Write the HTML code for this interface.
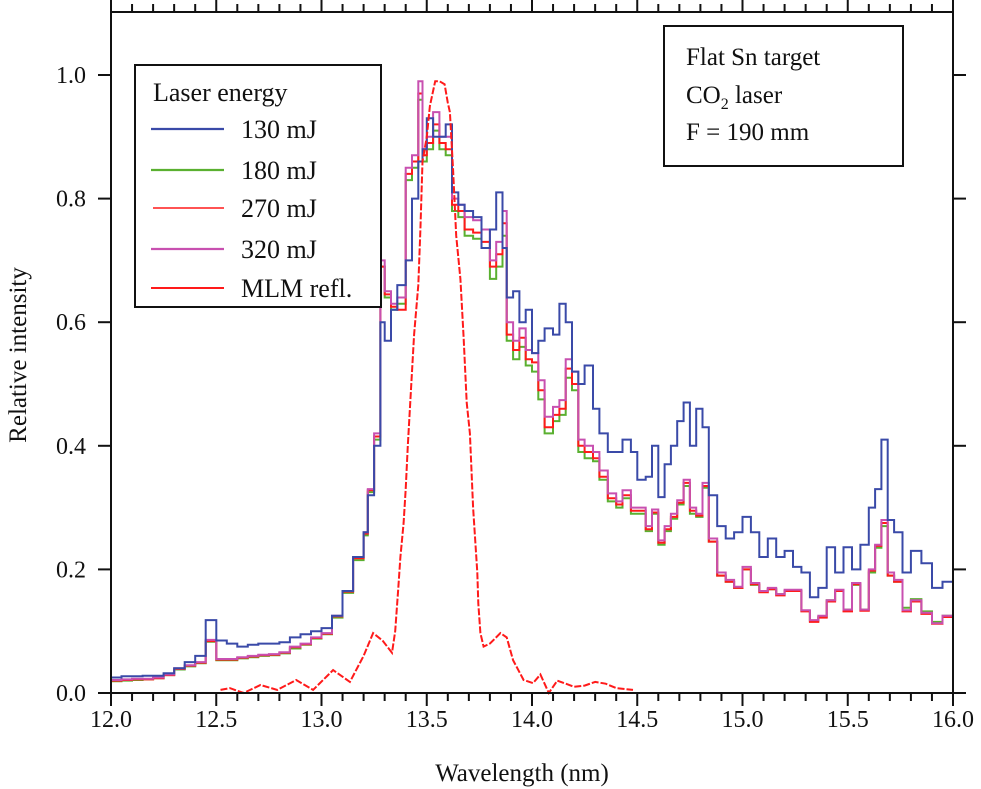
<!DOCTYPE html>
<html><head><meta charset="utf-8">
<style>
html,body{margin:0;padding:0;background:#fff;}
svg{display:block;font-family:"Liberation Serif","DejaVu Serif",serif;}
</style></head>
<body>
<svg id="chart" width="981" height="789" viewBox="0 0 981 789" xmlns="http://www.w3.org/2000/svg">
<g id="marks"></g>
<g id="axes"></g>
<g id="legend">
  <rect x="135" y="65" width="246" height="242" fill="#fff" stroke="#111" stroke-width="2"/>
  <text x="153" y="101" font-size="26" fill="#111">Laser energy</text>
  <line x1="151" x2="224" y1="129" y2="129" stroke="#3a4aa8" stroke-width="2.2"/>
  <text x="241" y="138" font-size="26" fill="#111">130 mJ</text>
  <line x1="151" x2="224" y1="170" y2="170" stroke="#5ab030" stroke-width="2.2"/>
  <text x="241" y="179" font-size="26" fill="#111">180 mJ</text>
  <line x1="153" x2="224" y1="208" y2="208" stroke="#ff1a1a" stroke-width="1.4"/>
  <text x="241" y="217" font-size="26" fill="#111">270 mJ</text>
  <line x1="151" x2="224" y1="249" y2="249" stroke="#c850b0" stroke-width="2.2"/>
  <text x="241" y="258" font-size="26" fill="#111">320 mJ</text>
  <line x1="151" x2="224" y1="288" y2="288" stroke="#ff1a1a" stroke-width="2"/>
  <text x="241" y="297" font-size="26" fill="#111">MLM refl.</text>
</g>
<g id="infobox">
  <rect x="664" y="26" width="239" height="140" fill="#fff" stroke="#111" stroke-width="2"/>
  <text x="686" y="65" font-size="25" fill="#111">Flat Sn target</text>
  <text x="686" y="103" font-size="25" fill="#111">CO<tspan font-size="16" dy="6">2</tspan><tspan dy="-6"> laser</tspan></text>
  <text x="686" y="140" font-size="25" fill="#111">F = 190 mm</text>
</g>
<text x="522" y="781" font-size="25" text-anchor="middle" fill="#111">Wavelength (nm)</text>
<text x="0" y="0" font-size="25" text-anchor="middle" fill="#111" transform="translate(26,355) rotate(-90)">Relative intensity</text>
</svg>
<script>
const wl=[12.00,12.05,12.10,12.15,12.20,12.25,12.30,12.35,12.40,12.45,12.50,12.55,12.60,12.65,12.70,12.75,12.80,12.85,12.90,12.95,13.00,13.05,13.10,13.15,13.20,
13.22,13.25,13.28,13.30,13.33,13.36,13.40,13.43,13.46,13.48,
13.50,13.53,13.56,13.59,13.62,13.65,13.68,13.72,13.76,13.80,
13.83,13.86,13.88,13.91,13.94,13.97,14.00,14.03,14.06,14.10,
14.13,14.16,14.19,14.22,14.25,14.29,14.32,14.36,14.40,14.43,
14.47,14.50,14.54,14.57,14.60,14.63,14.66,14.69,14.72,14.75,
14.78,14.81,14.84,14.88,14.92,14.96,15.00,15.04,15.08,15.12,
15.16,15.20,15.24,15.28,15.32,15.36,15.40,15.44,15.48,15.52,
15.56,15.60,15.63,15.66,15.69,15.72,15.76,15.80,15.85,15.90,
15.95,16.00];
const s130=[.025,.027,.027,.028,.028,.032,.040,.050,.060,.118,.085,.080,.075,.078,.080,.080,.082,.090,.095,.100,.105,.125,.165,.220,.260,
.320,.400,.600,.570,.620,.660,.700,.800,.860,.880,
.930,.900,.900,.920,.810,.790,.780,.770,.720,.750,
.810,.720,.640,.650,.600,.620,.550,.570,.590,.580,
.630,.600,.520,.500,.530,.460,.420,.390,.390,.410,
.390,.345,.350,.400,.317,.370,.400,.440,.470,.400,
.460,.430,.320,.270,.250,.260,.285,.260,.220,.250,
.220,.230,.204,.195,.155,.170,.236,.195,.236,.200,
.240,.300,.330,.410,.280,.260,.195,.230,.210,.170,
.180,.180];
const s180=[.019,.020,.021,.022,.024,.029,.038,.043,.048,.083,.053,.053,.056,.058,.060,.061,.064,.072,.078,.088,.095,.122,.162,.215,.255,
.325,.410,.690,.640,.620,.630,.830,.850,.960,.860,
.880,.910,.880,.870,.780,.770,.740,.735,.720,.670,
.690,.740,.570,.540,.560,.530,.520,.475,.420,.440,
.450,.510,.490,.390,.380,.375,.345,.310,.300,.315,
.290,.290,.262,.290,.240,.262,.282,.305,.335,.290,
.285,.332,.245,.190,.180,.170,.200,.175,.165,.168,
.160,.165,.165,.133,.117,.123,.150,.165,.135,.175,
.135,.195,.235,.270,.190,.180,.138,.152,.132,.115,
.125,.130];
const s270=[.020,.021,.022,.022,.024,.029,.039,.044,.049,.084,.054,.054,.057,.059,.061,.062,.065,.074,.079,.089,.096,.124,.164,.218,.258,
.328,.415,.690,.645,.625,.620,.840,.860,.970,.870,
.890,.920,.890,.880,.790,.780,.750,.745,.730,.690,
.710,.760,.580,.555,.575,.540,.535,.490,.430,.450,
.460,.525,.500,.400,.390,.380,.350,.315,.305,.320,
.295,.295,.265,.292,.243,.265,.285,.308,.340,.295,
.287,.335,.245,.190,.180,.170,.200,.176,.163,.168,
.158,.165,.165,.132,.115,.122,.148,.165,.132,.176,
.133,.198,.238,.275,.190,.180,.132,.148,.128,.112,
.123,.128];
const s320=[.021,.022,.023,.023,.025,.030,.040,.045,.050,.086,.055,.055,.058,.060,.062,.063,.066,.075,.080,.090,.097,.125,.165,.220,.260,
.330,.420,.700,.650,.630,.640,.850,.870,.990,.880,
.900,.940,.900,.900,.800,.790,.770,.765,.750,.700,
.730,.780,.600,.570,.590,.555,.550,.506,.447,.463,
.474,.540,.520,.410,.400,.390,.360,.323,.310,.328,
.300,.300,.270,.297,.247,.270,.290,.312,.345,.300,
.290,.340,.250,.195,.183,.172,.204,.178,.165,.170,
.160,.167,.167,.134,.118,.125,.150,.167,.135,.178,
.135,.200,.240,.280,.195,.183,.134,.150,.130,.113,
.125,.130];
const mlmWl=[12.52,12.565,12.63,12.71,12.79,12.88,12.96,13.055,13.135,13.20,
13.245,13.29,13.335,13.35,13.365,13.375,13.39,13.40,13.41,13.42,
13.44,13.46,13.47,13.48,13.50,13.515,13.54,13.56,13.585,13.60,
13.61,13.625,13.64,13.66,13.675,13.69,13.705,13.72,13.74,13.745,
13.755,13.77,13.80,13.85,13.88,13.91,13.96,14.005,14.04,14.08,
14.12,14.20,14.25,14.30,14.35,14.40,14.48];
const mlmVal=[.005,.008,0,.013,.005,.021,.005,.037,.018,.06,
.097,.085,.065,.10,.17,.22,.275,.33,.40,.46,
.58,.66,.75,.86,.90,.95,.99,.99,.985,.955,
.94,.846,.74,.67,.576,.47,.42,.30,.195,.145,
.097,.075,.08,.097,.09,.053,.021,.016,.03,0,
.02,.01,.012,.018,.015,.008,.005];
const xTicks=["12.0","12.5","13.0","13.5","14.0","14.5","15.0","15.5","16.0"];
const yTicks=["0.0","0.2","0.4","0.6","0.8","1.0"];

const X0=111,X1=953,Y0=693,Ytop=12;
const xMin=12,xMax=16;
function sx(v){return X0+(v-xMin)/(xMax-xMin)*(X1-X0);}
function sy(v){return Y0-v*618;}
const NS="http://www.w3.org/2000/svg";
const marks=document.getElementById('marks');
const axes=document.getElementById('axes');
function mk(tag,attrs,parent){const e=document.createElementNS(NS,tag);for(const k in attrs)e.setAttribute(k,attrs[k]);parent.appendChild(e);return e;}

function stepPath(xs,ys){
  let d="M"+sx(xs[0]).toFixed(1)+","+sy(ys[0]).toFixed(1);
  for(let i=1;i<xs.length;i++){
    const x=sx(xs[i]).toFixed(1);
    d+="H"+x+"V"+sy(ys[i]).toFixed(1);
  }
  d+="H"+sx(xMax).toFixed(1);
  return d;
}
const series=[[s180,"#5ab030","series-180mj",2],[s270,"#ff1a1a","series-270mj",2],[s320,"#c850b0","series-320mj",2],[s130,"#3a4aa8","series-130mj",2]];
series.forEach(s=>{
  const p=mk('path',{d:stepPath(wl,s[0]),fill:"none",stroke:s[1],"stroke-width":s[3]},marks);
  
  
});
let dm="";
mlmWl.forEach((w,i)=>{dm+=(i?"L":"M")+sx(w).toFixed(1)+","+sy(mlmVal[i]).toFixed(1);});
const mp=mk('path',{d:dm,fill:"none",stroke:"#ff1a1a","stroke-width":2,"stroke-dasharray":"7 2"},marks);



// frame
const fr=mk('rect',{x:X0,y:Ytop,width:X1-X0,height:Y0-Ytop,fill:"none",stroke:"#111","stroke-width":2},axes);


// x ticks
for(let i=0;i<=40;i++){
  const v=12+i*0.1, x=sx(v), major=(i%5===0), L=major?13:8;
  const t=mk('line',{x1:x,x2:x,y1:Y0,y2:Y0+L,stroke:"#111","stroke-width":2},axes);
  
  
  const t2=mk('line',{x1:x,x2:x,y1:Ytop,y2:Ytop-L,stroke:"#111","stroke-width":2},axes);
  
  
}
xTicks.forEach(lbl=>{
  const t=mk('text',{x:sx(parseFloat(lbl)),y:727,"font-size":24,"text-anchor":"middle",fill:"#111"},axes);
  t.textContent=lbl;
  
  
});
yTicks.forEach(lbl=>{
  const y=sy(parseFloat(lbl));
  const a=mk('line',{x1:X0-13,x2:X0,y1:y,y2:y,stroke:"#111","stroke-width":2},axes);
  
  
  const b=mk('line',{x1:X1,x2:X1+13,y1:y,y2:y,stroke:"#111","stroke-width":2},axes);
  
  
  const t=mk('text',{x:86,y:y+8,"font-size":24,"text-anchor":"end",fill:"#111"},axes);
  t.textContent=lbl;
  
  
});
</script>
</body></html>
